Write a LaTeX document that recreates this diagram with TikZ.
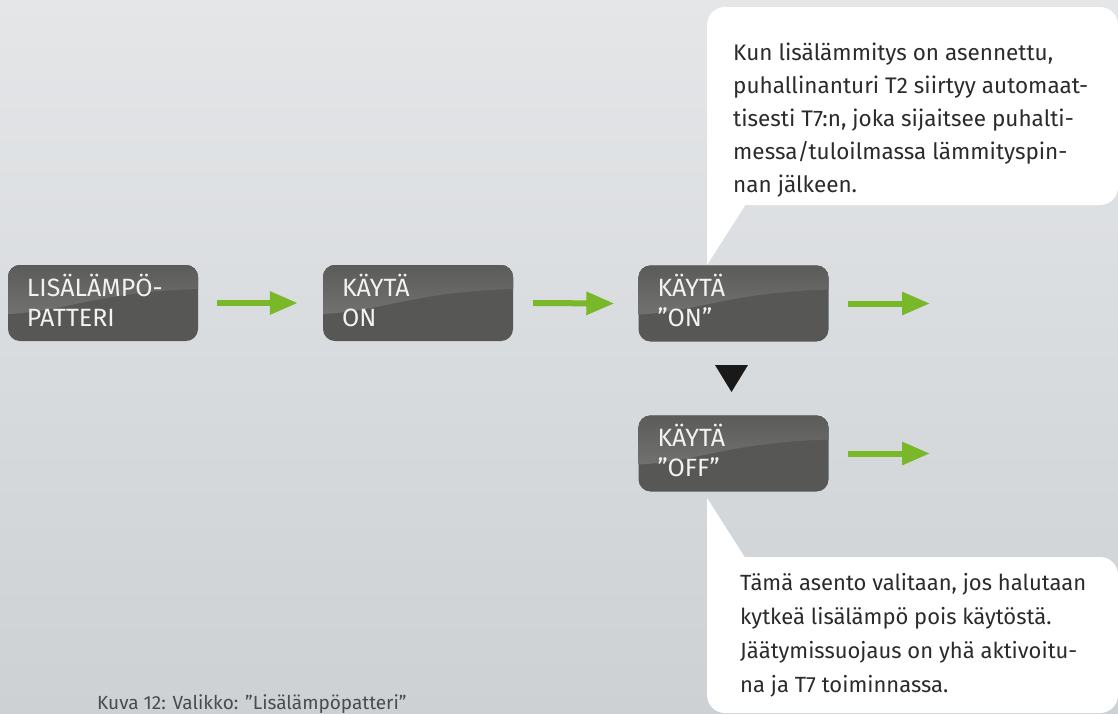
\documentclass[tikz,border=0pt]{standalone}
\usepackage{fontspec}
\setmainfont{Fira Sans}
\usetikzlibrary{arrows.meta,calc}
\definecolor{bgtop}{HTML}{E4E6E8}
\definecolor{bgbot}{HTML}{CDD1D4}
\definecolor{boxdark}{HTML}{575755}
\definecolor{glosstop}{HTML}{5B5B59}
\definecolor{glossbot}{HTML}{7E7E7C}
\definecolor{arrowgreen}{HTML}{78B829}
\definecolor{txtdark}{HTML}{2B2B2B}
\definecolor{boxtxt}{HTML}{F2F2F2}
\newcommand{\firstln}[1]{\rule{0pt}{#1pt}}
\begin{document}
\begin{tikzpicture}[x=1pt,y=-1pt]
\tikzset{
  menubox/.style={minimum width=190pt, minimum height=76pt, rounded corners=12pt,
    fill=boxdark, inner sep=0pt,
    path picture={
      \fill[sharp corners, top color=glosstop, bottom color=glossbot]
        (path picture bounding box.north west) -- (path picture bounding box.north east)
        -- ($(path picture bounding box.north west)+(190,24)$)
        .. controls ($(path picture bounding box.north west)+(90,27)$)
        and ($(path picture bounding box.north west)+(60,46)$)
        .. ($(path picture bounding box.north west)+(0,49)$) -- cycle;
    }},
  boxlabel/.style={anchor=north west, inner sep=0pt, align=left, text=boxtxt,
    font=\fontsize{25}{30}\selectfont},
  greenarrow/.style={draw=arrowgreen, line width=6pt,
    -{Triangle[length=28pt,width=22pt]}},
  callout/.style={fill=white, rounded corners=18pt},
  callouttext/.style={anchor=north west, inner sep=0pt, align=left, text=txtdark},
}
% background
\useasboundingbox (0,0) rectangle (1118,713);
\shade[top color=bgtop, bottom color=bgbot] (0,0) rectangle (1118,713);

% callouts
\fill[callout] (707,7) rectangle (1118,205);
\fill[white] (707,187) -- (745,205.5) -- (707,265) -- cycle;
\fill[callout] (707,557) rectangle (1118,713);
\fill[white] (707,498) -- (745,557.5) -- (707,575) -- cycle;

% menu boxes
\node[menubox] (b1) at (103,303) {};
\node[menubox] (b2) at (418,303) {};
\node[menubox] (b3) at (733.5,303.5) {};
\node[menubox] (b4) at (733.5,453.5) {};

\node[boxlabel] (t1) at ($(b1.north west)+(19,5)$) {\firstln{26}LISÄLÄMPÖ-\\PATTERI};
\node[boxlabel] (t2) at ($(b2.north west)+(19,5)$) {\firstln{26}KÄYTÄ\\ON};
\node[boxlabel] (t3) at ($(b3.north west)+(19,5)$) {\firstln{26}KÄYTÄ\\”ON”};
\node[boxlabel] (t4) at ($(b4.north west)+(19,5)$) {\firstln{26}KÄYTÄ\\”OFF”};

% arrows
\coordinate (e3) at (930,303.5);
\coordinate (e4) at (930,453.5);
\draw[greenarrow] ($(b1.east)+(19,0)$) -- ($(b2.west)+(-25,0)$);
\draw[greenarrow] ($(b2.east)+(20,0)$) -- ($(b3.west)+(-24,0)$);
\draw[greenarrow] ($(b3.east)+(19,0)$) -- (e3);
\draw[greenarrow] ($(b4.east)+(19,0)$) -- (e4);

% black triangle
\fill[black!90] (715,365) -- (748,365) -- (731.5,392) -- cycle;

% callout texts
\node[callouttext, font=\fontsize{22.5}{33}\selectfont] (c1) at (733,36)
  {\firstln{24}Kun lisälämmitys on asennettu,\\puhallinanturi T2 siirtyy automaat-\\tisesti T7:n, joka sijaitsee puhalti-\\messa/tuloilmassa lämmityspin-\\nan jälkeen.};
\node[callouttext, font=\fontsize{22}{34}\selectfont] (c2) at (740,566)
  {\firstln{24}Tämä asento valitaan, jos halutaan\\kytkeä lisälämpö pois käytöstä.\\Jäätymissuojaus on yhä aktivoitu-\\na ja T7 toiminnassa.};

% caption
\node[anchor=base west, inner sep=0pt, text=txtdark!85, font=\fontsize{19}{22}\selectfont] (cap) at (97,709)
  {Kuva 12: Valikko: ”Lisälämpöpatteri”};
\end{tikzpicture}
\end{document}
